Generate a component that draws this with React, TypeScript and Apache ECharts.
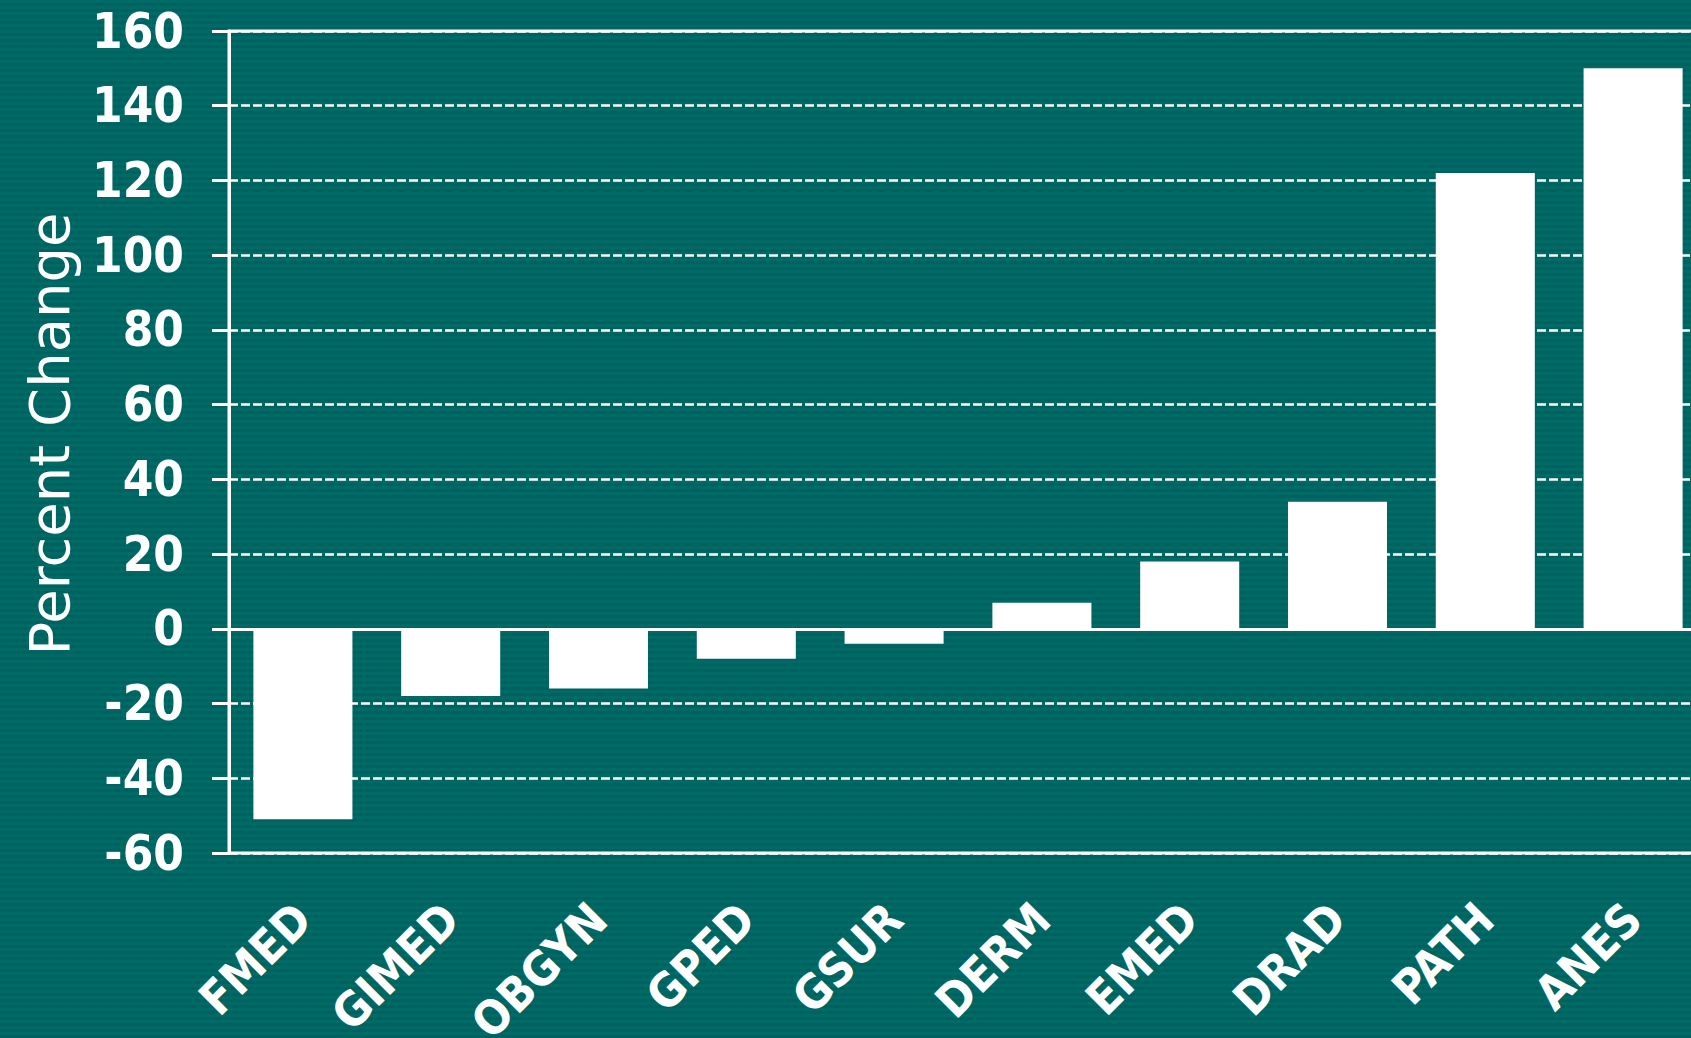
import React, { useEffect, useRef } from "react";
import * as echarts from "echarts";

const categories = ["FMED", "GIMED", "OBGYN", "GPED", "GSUR", "DERM", "EMED", "DRAD", "PATH", "ANES"];
const percentChange = [-51, -18, -16, -8, -4, 7, 18, 34, 122, 150];
const yAxisTitle = "Percent Change";

const LABEL_FONT = "'DejaVu Sans Condensed', 'DejaVu Sans', sans-serif";

export default function App() {
  const ref = useRef<HTMLDivElement>(null);
  useEffect(() => {
    document.body.style.margin = "0";
    if (!ref.current) return;
    const chart = echarts.init(ref.current, undefined, { renderer: "svg" });
    chart.setOption({
      animation: false,
      backgroundColor: "transparent",
      grid: {
        left: 229,
        top: 31,
        width: 1478,
        height: 822,
        outerBoundsMode: "none",
        containLabel: false,
        show: true,
        borderColor: "#ffffff",
        borderWidth: 3,
        backgroundColor: "transparent",
      },
      xAxis: {
        type: "category",
        data: categories,
        position: "bottom",
        axisLine: { show: false, onZero: false },
        axisTick: { show: false },
        splitLine: { show: false },
        axisLabel: {
          interval: 0,
          rotate: 45,
          margin: 58,
          color: "#ffffff",
          fontSize: 47,
          fontWeight: "bold",
          fontFamily: LABEL_FONT,
        },
      },
      yAxis: {
        type: "value",
        min: -60,
        max: 160,
        interval: 20,
        axisLine: { show: true, lineStyle: { color: "#ffffff", width: 3 } },
        axisTick: { show: true, inside: false, length: 17, lineStyle: { color: "#ffffff", width: 3 } },
        axisLabel: {
          margin: 45,
          color: "#ffffff",
          fontSize: 49,
          fontWeight: "bold",
          fontFamily: LABEL_FONT,
        },
        splitLine: {
          show: true,
          lineStyle: { color: "#ffffff", width: 2.5, type: [9, 3] },
        },
      },
      series: [
        {
          type: "bar",
          data: percentChange,
          barCategoryGap: "33%",
          itemStyle: { color: "#ffffff" },
          markLine: {
            silent: true,
            symbol: ["none", "none"],
            label: { show: false },
            lineStyle: { color: "#ffffff", width: 3, type: "solid" },
            data: [{ yAxis: 0 }],
          },
        },
      ],
      graphic: [
        {
          type: "text",
          x: 49,
          y: 434,
          rotation: Math.PI / 2,
          style: {
            text: yAxisTitle,
            fill: "#ffffff",
            font: "56px 'DejaVu Sans', sans-serif",
            textAlign: "center",
            textVerticalAlign: "middle",
          },
        },
      ],
    });
    return () => chart.dispose();
  }, []);
  return (
    <div
      ref={ref}
      style={{
        width: 1691,
        height: 1038,
        background:
          "repeating-linear-gradient(to bottom, #006a66 0px, #006a66 3px, #00625e 3px, #00625e 6px)",
      }}
    />
  );
}
